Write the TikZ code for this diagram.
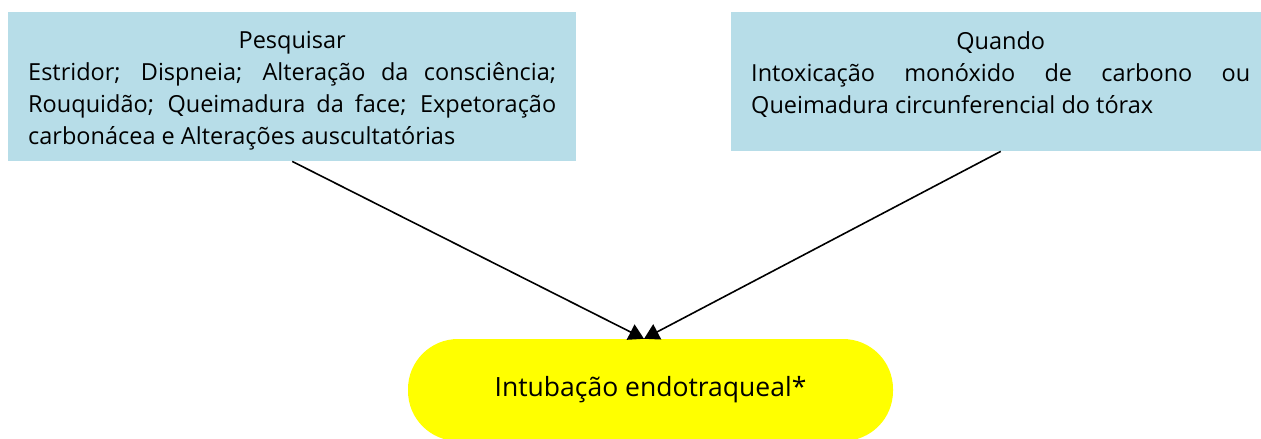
\documentclass[tikz,border=0pt]{standalone}
\usepackage{fontspec}
\setmainfont{Open Sans}
\usepackage{xcolor}
\usepackage{tikz}
\usetikzlibrary{positioning,calc,arrows.meta}
\definecolor{BoxBlue}{RGB}{183,221,232}
\definecolor{BoxYellow}{RGB}{255,255,0}

\begin{document}
\begin{tikzpicture}[
        x=1pt, y=-1pt,
        % --- STYLE CHUNG ---
        info_box/.style={
            rectangle,
            fill=BoxBlue,
            anchor=north west,
            align=justify,
            inner xsep=20pt,
            inner ysep=0pt,
            font=\fontsize{23.5}{32}\selectfont
        },
        % Hop ket qua (vang)
        result_node/.style={
            rectangle,
            rounded corners=50pt,
            fill=BoxYellow,
            minimum width=485pt,
            minimum height=102pt,
            font=\fontsize{26.5}{32}\selectfont
        },
        % Duong noi
        arrow_line/.style={
            draw=black,
            line width=1.6pt,
            -{Triangle[length=15pt,width=17pt]}
        }
    ]

        \useasboundingbox (0,0) rectangle (1261,439);

        % --- HOP "Pesquisar" ---
        \node[info_box, text width=528pt, minimum height=149pt] (pesquisar) at (8,12)
            {\rule{0pt}{26pt}\hfill Pesquisar\hfill\null\par
             Estridor; Dispneia; Alteração da consciência;\linebreak
             Rouquidão; Queimadura da face; Expetoração\linebreak
             carbonácea e Alterações auscultatórias};

        % --- HOP "Quando" ---
        \node[info_box, text width=499pt, minimum height=139pt] (quando) at (731,12)
            {\hfill Quando\hfill\null\par
             Intoxicação monóxido de carbono ou\linebreak
             Queimadura circunferencial do tórax\rule[-19pt]{0pt}{19pt}};

        % --- KET QUA ---
        \node[result_node] (intubacao) at (650.5,390) {Intubação endotraqueal*};

        % --- MUI TEN ---
        \draw[arrow_line] (pesquisar.south) -- ([xshift=-6.5pt]intubacao.north);
        \draw[arrow_line] (quando.south) -- ([xshift=-6.5pt]intubacao.north);

\end{tikzpicture}
\end{document}
